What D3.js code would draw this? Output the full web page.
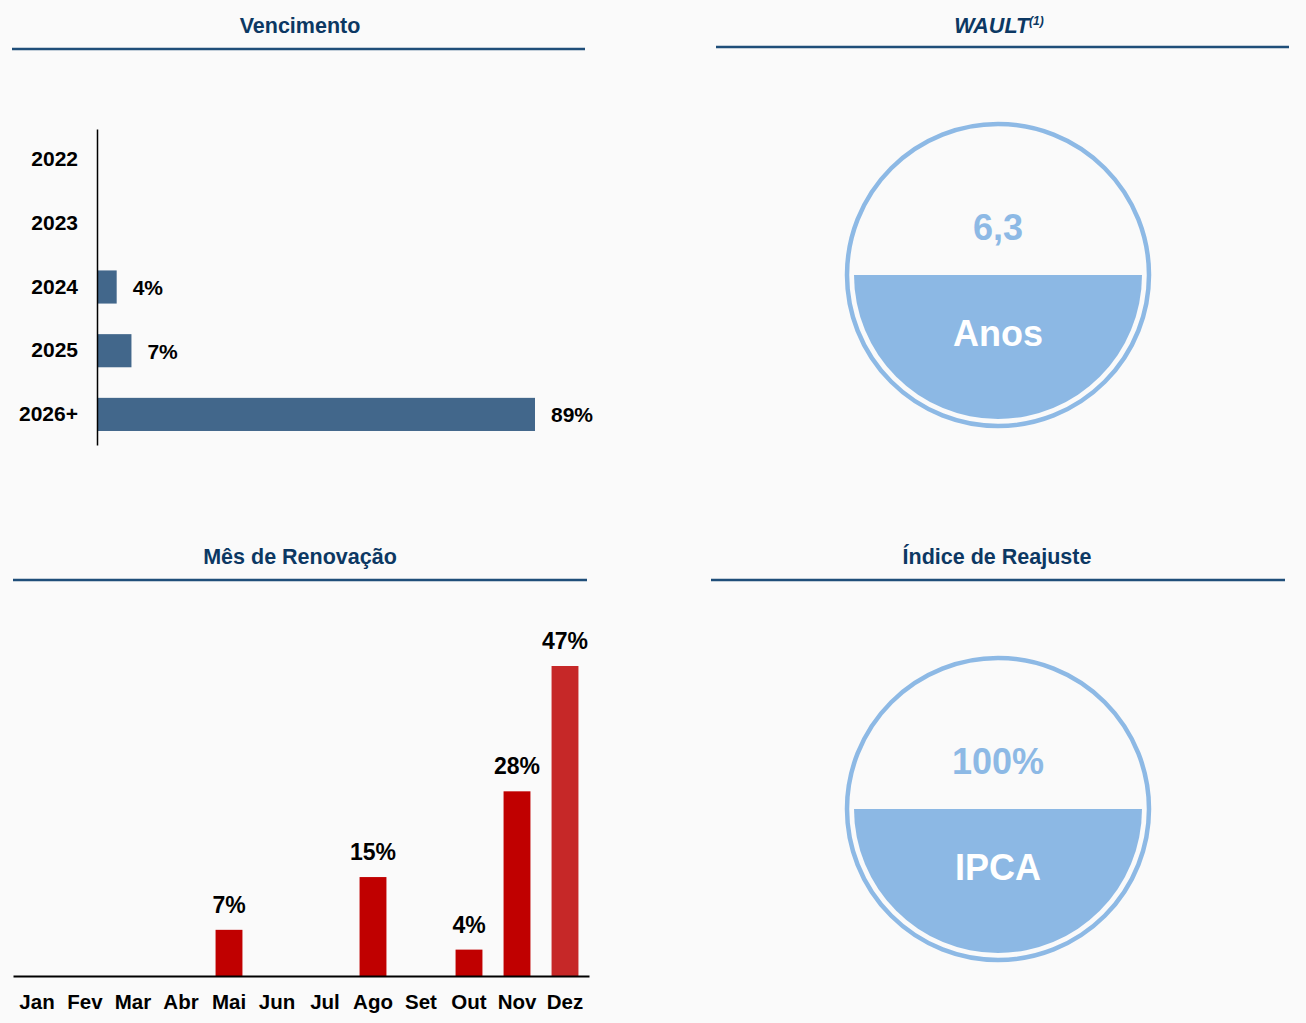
<!DOCTYPE html>
<html>
<head>
<meta charset="utf-8">
<script src="https://cdn.jsdelivr.net/npm/d3@7"></script>
<style>
  body { margin: 0; background: #fafafa; }
  svg { display: block; font-family: "Liberation Sans", Arial, sans-serif; }
</style>
</head>
<body>
<div class="painel"></div>
<script>
// vencimento dos contratos (% da receita)
const anos = ["2022", "2023", "2024", "2025", "2026+"];
const vencimento = [0, 0, 4, 7, 89];

// mes de renovacao
const meses = ["Jan", "Fev", "Mar", "Abr", "Mai", "Jun", "Jul", "Ago", "Set", "Out", "Nov", "Dez"];
const renovacao = [0, 0, 0, 0, 7, 0, 0, 15, 0, 4, 28, 47];

// indicadores em circulo
const indicadores = [
  { titulo: "WAULT", sup: "(1)", valor: "6,3", legenda: "Anos" },
  { titulo: "Índice de Reajuste", sup: null, valor: "100%", legenda: "IPCA" }
];

const width = 1306, height = 1023;
const svg = d3.select(".painel").append("svg")
  .attr("width", width)
  .attr("height", height)
  .attr("viewBox", [0, 0, width, height]);

svg.append("rect").attr("width", width).attr("height", height).attr("fill", "#fafafa");

const titleColor = "#0c3863";
const lineColor = "#1f4e79";

// titulo + linha de cada painel
function header(txt, cx, ty, x1, x2, ly, italic, sup) {
  const t = svg.append("text")
    .attr("x", cx).attr("y", ty)
    .attr("text-anchor", "middle")
    .attr("font-size", 21.5)
    .attr("font-weight", "bold")
    .attr("fill", titleColor)
    .attr("font-style", italic ? "italic" : null);
  t.append("tspan").text(txt);
  if (sup) {
    t.append("tspan").attr("font-size", 12).attr("dy", -8).text(sup);
  }
  svg.append("line")
    .attr("x1", x1).attr("x2", x2)
    .attr("y1", ly).attr("y2", ly)
    .attr("stroke", lineColor)
    .attr("stroke-width", 2.5);
}

header("Vencimento", 300, 33, 12, 585, 49);
header(indicadores[0].titulo, 999, 33, 716, 1289, 47, true, indicadores[0].sup);
header("Mês de Renovação", 300, 564, 13, 587, 580);
header(indicadores[1].titulo, 997, 564, 711, 1285, 580);

/* ---- Vencimento (barras horizontais) ---- */
const yV = d3.scaleBand().domain(anos).range([129, 445]).paddingInner(0.48).paddingOuter(0.22);
const xV = d3.scaleLinear().domain([0, 89]).range([97, 535]);

const dadosV = anos.map((a, i) => ({ ano: a, v: vencimento[i] }));

svg.selectAll(".barV")
  .data(dadosV)
  .join("rect")
  .attr("class", "barV")
  .attr("x", xV(0))
  .attr("y", d => yV(d.ano))
  .attr("width", d => xV(d.v) - xV(0))
  .attr("height", yV.bandwidth())
  .attr("fill", "#42678b");

svg.selectAll(".lblV")
  .data(dadosV.filter(d => d.v > 0))
  .join("text")
  .attr("class", "lblV")
  .attr("x", d => xV(d.v) + 16)
  .attr("y", d => yV(d.ano) + yV.bandwidth() / 2)
  .attr("dy", "0.38em")
  .attr("font-size", 21)
  .attr("font-weight", "bold")
  .attr("fill", "#000")
  .text(d => d.v + "%");

const axV = svg.append("g")
  .attr("transform", `translate(${xV(0)},0)`)
  .call(d3.axisLeft(yV).tickSize(0).tickSizeOuter(0).tickPadding(19));
axV.select(".domain").attr("stroke", "#000").attr("stroke-width", 1.5);
axV.selectAll("text")
  .attr("font-size", 21)
  .attr("font-weight", "bold")
  .attr("fill", "#000")
  .attr("font-family", "Liberation Sans, Arial, sans-serif");

/* ---- Mes de renovacao (colunas) ---- */
const xM = d3.scaleBand().domain(meses).range([13, 589]).paddingInner(0.44).paddingOuter(0.22);
const yM = d3.scaleLinear().domain([0, 47]).range([976, 666]);

const dadosM = meses.map((m, i) => ({ mes: m, v: renovacao[i] }));

svg.selectAll(".barM")
  .data(dadosM.filter(d => d.v > 0))
  .join("rect")
  .attr("class", "barM")
  .attr("x", d => xM(d.mes))
  .attr("y", d => yM(d.v))
  .attr("width", xM.bandwidth())
  .attr("height", d => yM(0) - yM(d.v))
  .attr("fill", d => d.mes === "Dez" ? "#c62828" : "#c00000");

svg.selectAll(".lblM")
  .data(dadosM.filter(d => d.v > 0))
  .join("text")
  .attr("class", "lblM")
  .attr("x", d => xM(d.mes) + xM.bandwidth() / 2)
  .attr("y", d => yM(d.v) - 17)
  .attr("text-anchor", "middle")
  .attr("font-size", 23)
  .attr("font-weight", "bold")
  .attr("fill", "#000")
  .text(d => d.v + "%");

const axM = svg.append("g")
  .attr("transform", `translate(0,${yM(0)})`)
  .call(d3.axisBottom(xM).tickSize(0).tickSizeOuter(0).tickPadding(18));
axM.select(".domain").attr("stroke", "#000").attr("stroke-width", 2);
axM.selectAll("text")
  .attr("font-size", 20.5)
  .attr("font-weight", "bold")
  .attr("fill", "#000")
  .attr("font-family", "Liberation Sans, Arial, sans-serif");

/* ---- circulos ---- */
const circColor = "#8db9e5";
const halfArc = d3.arc().innerRadius(0).outerRadius(144)
  .startAngle(Math.PI / 2).endAngle(Math.PI * 3 / 2);

const centros = [[998, 275], [998, 809]];
indicadores.forEach((ind, i) => {
  const g = svg.append("g").attr("transform", `translate(${centros[i][0]},${centros[i][1]})`);
  g.append("circle").attr("r", 151).attr("fill", "none")
    .attr("stroke", circColor).attr("stroke-width", 4.5);
  g.append("path").attr("d", halfArc()).attr("fill", "#8cb8e4");
  g.append("text").attr("y", -35).attr("text-anchor", "middle")
    .attr("font-size", 36).attr("font-weight", "bold").attr("fill", circColor)
    .text(ind.valor);
  g.append("text").attr("y", 71).attr("text-anchor", "middle")
    .attr("font-size", 36).attr("font-weight", "bold").attr("fill", "#fff")
    .text(ind.legenda);
});
</script>
</body>
</html>
